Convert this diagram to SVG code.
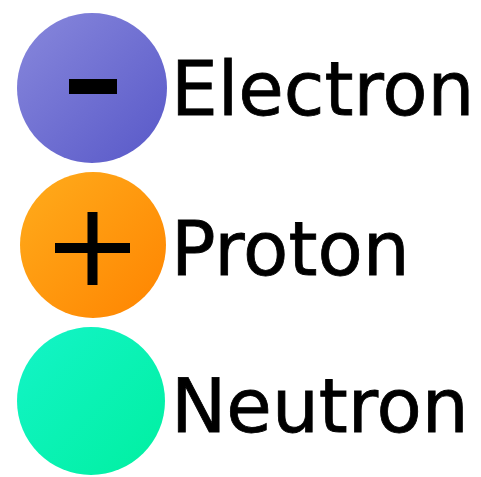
<svg xmlns="http://www.w3.org/2000/svg" width="481" height="477" viewBox="0 0 481 477">
<defs>
<linearGradient id="gE" x1="0" y1="0" x2="1" y2="1"><stop offset="0" stop-color="#8888dc"/><stop offset="1" stop-color="#5858c8"/></linearGradient>
<linearGradient id="gP" x1="0" y1="0" x2="1" y2="1"><stop offset="0" stop-color="#ffac1c"/><stop offset="1" stop-color="#ff8400"/></linearGradient>
<linearGradient id="gN" x1="0" y1="0" x2="1" y2="1"><stop offset="0" stop-color="#14f4c8"/><stop offset="1" stop-color="#00f0a0"/></linearGradient>
<style>
.lbl{font-family:"DejaVu Sans","Liberation Sans",sans-serif;font-size:74px;fill:#000;stroke:#000;stroke-width:0.8px}
</style>
</defs>
<rect width="481" height="477" fill="#fff"/>
<g id="electron">
<circle cx="92" cy="88" r="75" fill="url(#gE)"/>
<rect x="69" y="79" width="48" height="15" fill="#000"/>
<text class="lbl" x="171" y="115">Electron</text>
</g>
<g id="proton">
<circle cx="93" cy="245" r="73" fill="url(#gP)"/>
<path d="M55 248H130M92.5 212V285" stroke="#000" stroke-width="10" fill="none"/>
<text class="lbl" x="171" y="275">Proton</text>
</g>
<g id="neutron">
<circle cx="91" cy="401" r="74" fill="url(#gN)"/>
<text class="lbl" x="171" y="432">Neutron</text>
</g>
</svg>
